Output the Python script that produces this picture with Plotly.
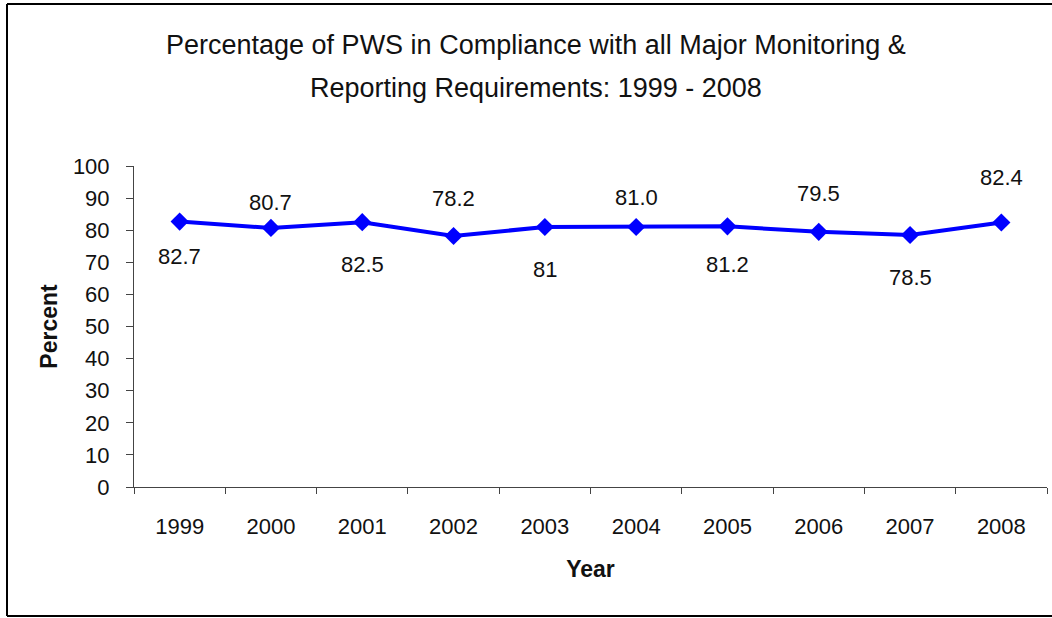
import plotly.graph_objects as go

years = ["1999", "2000", "2001", "2002", "2003", "2004", "2005", "2006", "2007", "2008"]
percent = [82.7, 80.7, 82.5, 78.2, 81.0, 81.0, 81.2, 79.5, 78.5, 82.4]
label_text = ["82.7", "80.7", "82.5", "78.2", "81", "81.0", "81.2", "79.5", "78.5", "82.4"]
y_ticks = [0, 10, 20, 30, 40, 50, 60, 70, 80, 90, 100]
title_lines = ["Percentage of PWS in Compliance with all Major Monitoring &",
               "Reporting Requirements: 1999 - 2008"]

# styling: pixel offsets of the data labels relative to their points
label_shift = [-35, 25, -42, 37, -43, 29, -38, 38, -42, 45]

FONT = "Liberation Sans, Arial, sans-serif"

fig = go.Figure()
fig.add_trace(go.Scatter(
    x=years, y=percent, mode="lines+markers",
    line=dict(color="#0000FF", width=4),
    marker=dict(symbol="diamond", size=14, color="#0000FF"),
    hoverinfo="x+y", showlegend=False,
))

for i, (v, t, s) in enumerate(zip(percent, label_text, label_shift)):
    fig.add_annotation(x=i, y=v, xref="x", yref="y", text=t, showarrow=False,
                       yshift=s, font=dict(family=FONT, size=22, color="#111"))

L, R, T, B = 134, 1047, 166, 487
W, H = 1052, 618
pw, ph = R - L, B - T

def px_x(x):
    return (x - L) / pw

def px_y(y):
    return (B - y) / ph

# title as two lines (wider line spacing than a plotly title allows)
for line, yc in zip(title_lines, [45, 88]):
    fig.add_annotation(x=px_x(536), y=px_y(yc), xref="paper", yref="paper",
                       text=line, showarrow=False, xanchor="center", yanchor="middle",
                       font=dict(family=FONT, size=27, color="#111"))

# outer frame (right edge is cropped off in the original)
for (ax0, ay0, ax1, ay1) in [(7, 4, 1052, 4), (7, 4, 7, 616), (7, 616, 1052, 616)]:
    fig.add_shape(type="line", xref="paper", yref="paper",
                  x0=px_x(ax0), y0=px_y(ay0), x1=px_x(ax1), y1=px_y(ay1),
                  line=dict(color="black", width=2), layer="below")

fig.update_layout(
    width=W, height=H,
    margin=dict(l=L, r=W - R, t=T, b=H - B, pad=0),
    paper_bgcolor="white", plot_bgcolor="white",
    font=dict(family=FONT, size=22, color="#111"),
    xaxis=dict(
        type="category", range=[-0.5, 9.5], tickson="boundaries",
        ticks="outside", ticklen=6, tickcolor="#444",
        showline=True, linecolor="#444", linewidth=1,
        showgrid=False, zeroline=False, ticklabelstandoff=20,
        title=dict(text="<b>Year</b>", standoff=22, font=dict(size=23)),
        tickfont=dict(size=22),
    ),
    yaxis=dict(
        range=[0, 100], tickvals=y_ticks,
        ticks="outside", ticklen=7, tickcolor="#444",
        showline=True, linecolor="#444", linewidth=1,
        showgrid=False, zeroline=False, ticklabelstandoff=12,
        title=dict(text="<b>Percent</b>", standoff=8, font=dict(size=23)),
        tickfont=dict(size=22),
    ),
)

fig.write_html("out.html", config={"displayModeBar": False},
               post_script="document.body.style.margin='0';")
